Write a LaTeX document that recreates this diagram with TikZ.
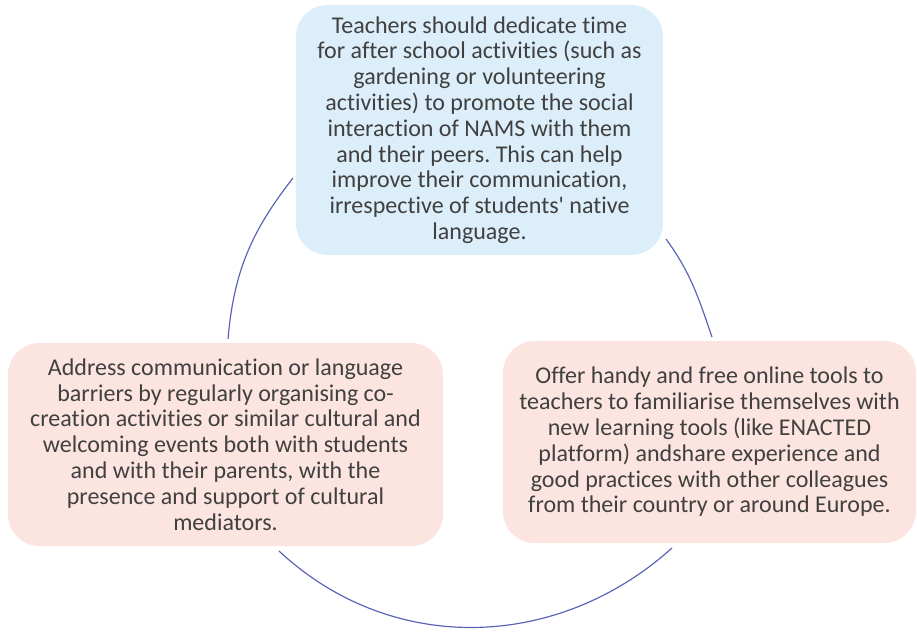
\documentclass[tikz,border=0pt]{standalone}
\usepackage{fontspec}
\setmainfont{Carlito}[Ligatures={NoCommon,NoRare}]
\frenchspacing
\usetikzlibrary{positioning}
\definecolor{ideaBlue}{HTML}{DCEEF9}
\definecolor{ideaPink}{HTML}{FCE5E1}
\definecolor{cycleline}{HTML}{5A62B5}
\definecolor{bodytext}{HTML}{404040}

\begin{document}
\begin{tikzpicture}[x=0.03cm,y=0.03cm,
  idea/.style={rounded corners=0.95cm,align=center,text=bodytext,inner sep=0pt,
    font=\fontsize{20.5}{22}\selectfont},
  cyc/.style={cycleline,line width=1pt}]
\useasboundingbox (0,0) rectangle (917,636);
% the three boxes
\node[idea,fill=ideaBlue,minimum width=11.01cm,minimum height=7.5cm] (boxTop) at (479.5,506)
  {Teachers should dedicate time\\for after school activities (such as\\gardening or volunteering\\activities) to promote the social\\interaction of NAMS with them\\and their peers. This can help\\improve their communication,\\irrespective of students\textquotesingle\ native\\language.};
\node[idea,fill=ideaPink,minimum width=13.05cm,minimum height=6.09cm] (boxLeft) at (225.5,191.5)
  {Address communication or language\\barriers by regularly organising co-\\creation activities or similar cultural and\\welcoming events both with students\\and with their parents, with the\\presence and support of cultural\\mediators.};
\node[idea,fill=ideaPink,minimum width=12.39cm,minimum height=6.06cm] (boxRight) at (709.5,194)
  {Offer handy and free online tools to\\teachers to familiarise themselves with\\new learning tools (like ENACTED\\platform) andshare experience and\\good practices with other colleagues\\from their country or around Europe.};
% arc ends, just off the box edges
\coordinate (tlA) at (293,458);
\coordinate (tlB) at (228,297);
\coordinate (trA) at (666,397);
\coordinate (trB) at (712,299);
\coordinate (btA) at (279,85);
\coordinate (btB) at (672,88);
% cycle arcs
\draw[cyc] (tlA) to[out=232,in=85] (tlB);
\draw[cyc] (trA) to[out=306,in=109] (trB);
\draw[cyc] (btA) to[out=317,in=222] (btB);
\end{tikzpicture}
\end{document}
